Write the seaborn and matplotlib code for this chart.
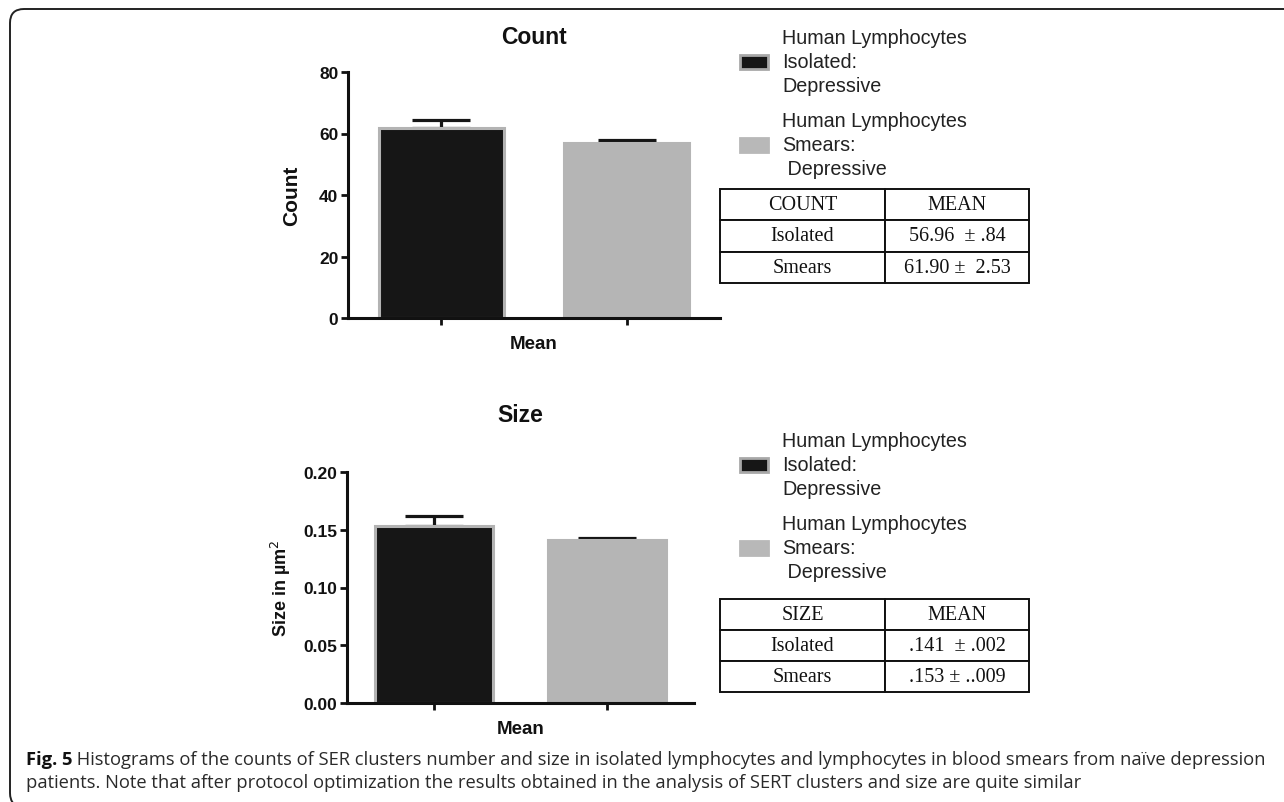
import matplotlib
matplotlib.use("Agg")
import matplotlib.pyplot as plt
import seaborn as sns
import pandas as pd
import numpy as np
from matplotlib.patches import Patch, FancyBboxPatch
from matplotlib.transforms import IdentityTransform

# ---------------- data ----------------
groups = ["Isolated", "Smears"]
legend_labels = ["Human Lymphocytes\nIsolated:\nDepressive",
                 "Human Lymphocytes\nSmears:\n Depressive"]
count_means = [61.90, 56.96]
count_sem = [2.53, 0.84]
size_means = [0.153, 0.141]
size_sem = [0.009, 0.002]
count_table = [["COUNT", "MEAN"], ["Isolated", "56.96  \u00b1 .84"], ["Smears", "61.90 \u00b1  2.53"]]
size_table = [["SIZE", "MEAN"], ["Isolated", ".141  \u00b1 .002"], ["Smears", ".153 \u00b1 ..009"]]
count_yticks = [0, 20, 40, 60, 80]
size_yticks = [0.00, 0.05, 0.10, 0.15, 0.20]
caption_bold = "Fig. 5"
caption_line1 = " Histograms of the counts of SER clusters number and size in isolated lymphocytes and lymphocytes in blood smears from na\u00efve depression"
caption_line2 = "patients. Note that after protocol optimization the results obtained in the analysis of SERT clusters and size are quite similar"

# ---------------- style ----------------
sns.set_style("ticks")
plt.rcParams["font.family"] = ["Liberation Sans", "DejaVu Sans"]
W, H = 1284, 803
fig = plt.figure(figsize=(W / 100, H / 100), dpi=100)

fill_colors = ["#161616", "#b5b5b5"]
edge_colors = ["#b3b3b3", "#b5b5b5"]


def px_axes(l, t, r, b):
    return fig.add_axes([l / W, 1 - b / H, (r - l) / W, (b - t) / H])


def draw_panel(ax, means, sems, title, ylabel, yticks, fmt, title_pad, ylab_x, ylab_size):
    df = pd.DataFrame({"group": groups, "mean": means})
    sns.barplot(data=df, x="group", y="mean", hue="group", palette=fill_colors,
                width=0.68, ax=ax, legend=False, errorbar=None, saturation=1)
    for p, ec in zip(ax.patches, edge_colors):
        p.set_edgecolor(ec)
        p.set_linewidth(2.2)
    ax.errorbar(x=np.arange(len(means)), y=means, yerr=[np.zeros(len(sems)), sems],
                fmt="none", ecolor="#151515", elinewidth=2.3, capsize=21, capthick=2.3, zorder=1)
    for p in ax.patches:
        p.set_zorder(2)
    ax.set_xlim(-0.505, 1.505)
    ax.set_ylim(yticks[0], yticks[-1])
    ax.set_yticks(yticks)
    ax.set_yticklabels([fmt.format(v) for v in yticks], fontsize=12.5, fontweight="bold", color="#111111")
    ax.set_xticks([0, 1])
    ax.set_xticklabels(["", ""])
    ax.tick_params(axis="both", direction="out", length=5, width=2, color="#111111", pad=2)
    for s in ["top", "right"]:
        ax.spines[s].set_visible(False)
    for s in ["left", "bottom"]:
        ax.spines[s].set_linewidth(2.2)
        ax.spines[s].set_color("#111111")
    ax.set_title(title, fontsize=16.5, fontweight="bold", pad=title_pad, color="#111111")
    ax.set_xlabel("Mean", fontsize=13.5, fontweight="bold", labelpad=5, color="#111111")
    ax.set_ylabel(ylabel, fontsize=ylab_size, fontweight="bold", color="#111111")
    ax.yaxis.set_label_coords(ylab_x, 0.5)


ax1 = px_axes(348, 73, 720, 319)
draw_panel(ax1, count_means, count_sem, "Count", "Count", count_yticks, "{:.0f}", 21, -0.126, 15)

ax2 = px_axes(347, 473, 694, 704)
draw_panel(ax2, size_means, size_sem, "Size", "Size in \u00b5m$^2$", size_yticks, "{:.2f}", 37, -0.156, 13)


def add_legend(top_px):
    handles = [Patch(facecolor="#161616", edgecolor="#a8a8a8", linewidth=2),
               Patch(facecolor="#b8b8b8", edgecolor="#b8b8b8", linewidth=2)]
    leg = fig.legend(handles, legend_labels, loc="upper left",
                     bbox_to_anchor=(740 / W, 1 - top_px / H), frameon=False,
                     handlelength=1.4, handleheight=0.7, handletextpad=0.75,
                     labelspacing=0.85, borderpad=0, borderaxespad=0,
                     prop={"family": ["Liberation Sans", "DejaVu Sans"], "size": 14.2})
    for t in leg.get_texts():
        t.set_linespacing(1.32)
        t.set_color("#222222")


add_legend(29)
add_legend(432)


def add_table(rows, l, t, r, b):
    tax = px_axes(l, t, r, b)
    tax.axis("off")
    tab = tax.table(cellText=rows, bbox=[0, 0, 1, 1], cellLoc="center",
                    colWidths=[0.534, 0.466])
    tab.auto_set_font_size(False)
    for (i, j), cell in tab.get_celld().items():
        cell.set_linewidth(1.4)
        cell.set_edgecolor("#111111")
        cell.get_text().set_fontsize(14.5)
        cell.get_text().set_fontfamily(["Liberation Serif", "DejaVu Serif"])
        cell.get_text().set_color("#111111")


add_table(count_table, 720, 190, 1029, 284)
add_table(size_table, 720, 600, 1029, 693)

# frame (top and left edges with rounded corners)
frame = FancyBboxPatch((10, -5), 1400, 798, boxstyle="round,pad=0,rounding_size=14",
                       transform=IdentityTransform(), facecolor="none",
                       edgecolor="#222222", linewidth=1.4)
fig.add_artist(frame)

# caption
cap_font = ["Open Sans", "DejaVu Sans"]
cap_size = 13.2
t1 = fig.text(26 / W, 1 - 760 / H, caption_bold, fontsize=cap_size, fontweight="bold",
              family=cap_font, va="center", ha="left", color="#111111")
fig.canvas.draw()
bb = t1.get_window_extent(renderer=fig.canvas.get_renderer())
fig.text(bb.x1 / W, 1 - 760 / H, caption_line1, fontsize=cap_size, family=cap_font,
         va="center", ha="left", color="#2a2a2a")
fig.text(26 / W, 1 - 783 / H, caption_line2, fontsize=cap_size, family=cap_font,
         va="center", ha="left", color="#2a2a2a")

fig.savefig("out.png", dpi=100)
